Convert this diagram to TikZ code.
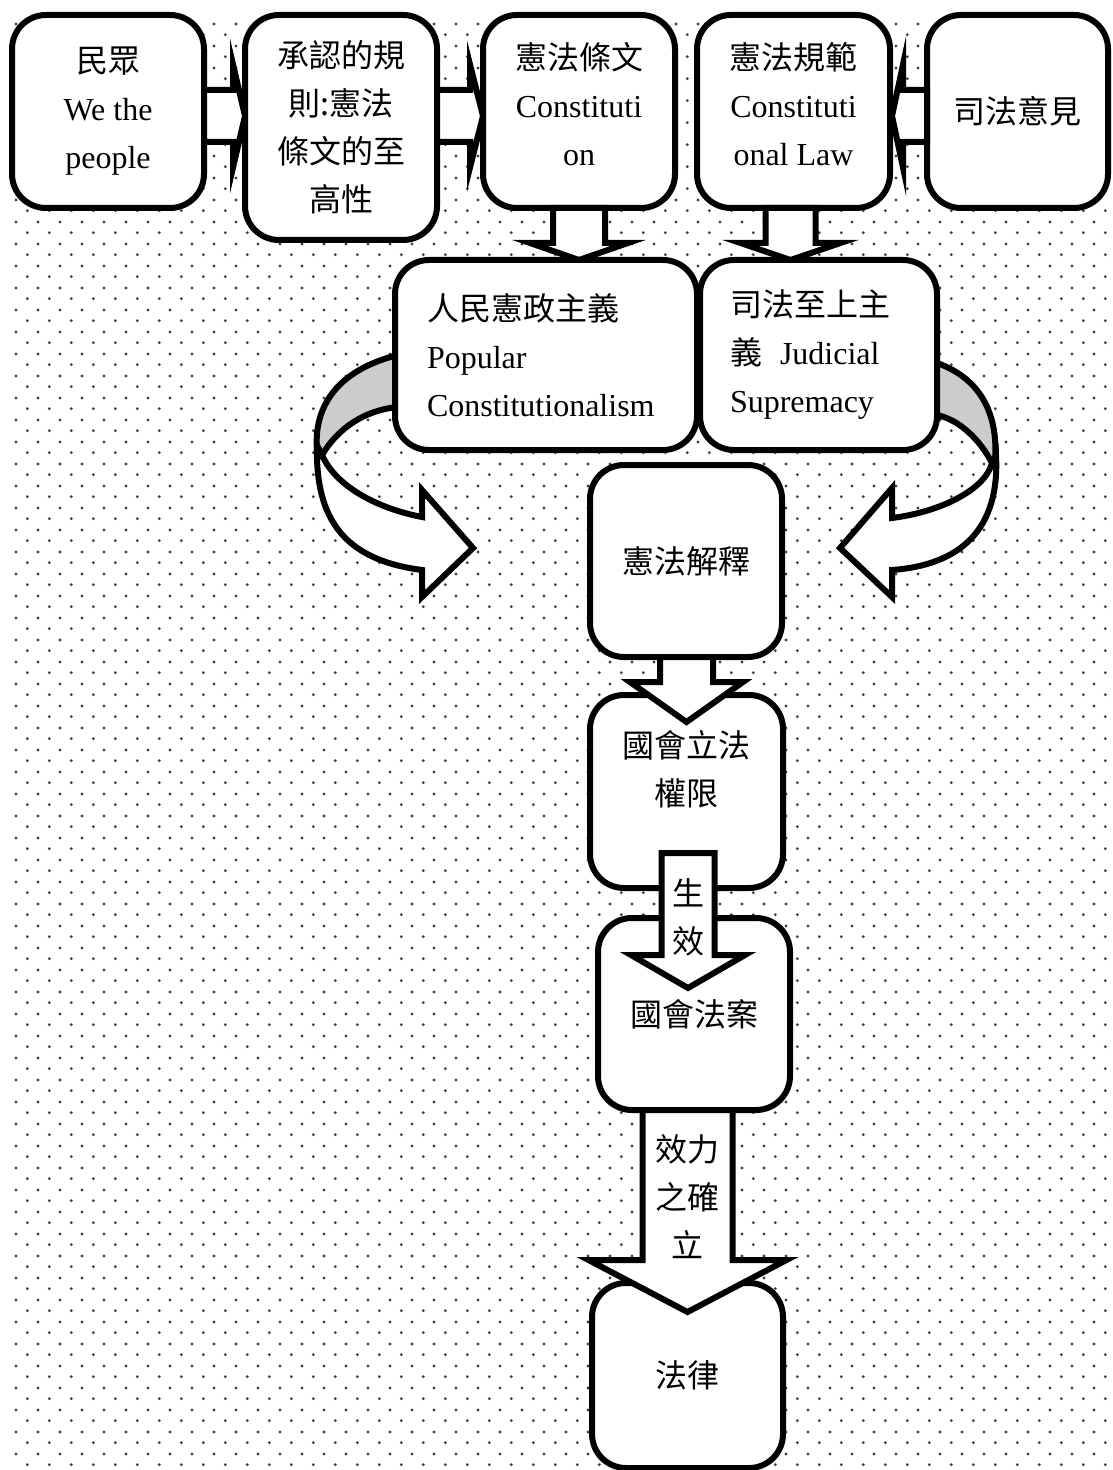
\documentclass[tikz,border=0pt]{standalone}
\usepackage{fontspec}
\setmainfont{Liberation Serif}
\newfontfamily\cjk{Noto Sans CJK TC}
\usepackage{xcolor}
\usepackage{tikz}
\usetikzlibrary{calc, patterns}

\pgfdeclarepatternformonly{offsetdots}{\pgfpointorigin}{\pgfpoint{10.83pt}{10.83pt}}{\pgfpoint{10.83pt}{10.83pt}}{%
  \pgfpathcircle{\pgfpoint{2.7pt}{2.7pt}}{0.8pt}%
  \pgfpathcircle{\pgfpoint{8.12pt}{8.12pt}}{0.8pt}%
  \pgfusepath{fill}}

\pgfdeclarelayer{bg}
\pgfdeclarelayer{behind}
\pgfsetlayers{bg,behind,main}

% block arrows: tail, tip, shaft half width, head half width, head length
\newcommand{\blockdown}[5]{%
  \draw[bigarrow] ($(#2 |- #1)+(-#3,0)$) -- ($(#2)+(-#3,-#5)$) -- ($(#2)+(-#4,-#5)$) -- (#2)
    -- ($(#2)+(#4,-#5)$) -- ($(#2)+(#3,-#5)$) -- ($(#2 |- #1)+(#3,0)$) -- cycle;}
\newcommand{\blockside}[5]{%
  \draw[bigarrow] ($(#1 |- #2)+(0,-#3)$) -- ($(#2)+({-(#5)},-#3)$) -- ($(#2)+({-(#5)},-#4)$) -- (#2)
    -- ($(#2)+({-(#5)},#4)$) -- ($(#2)+({-(#5)},#3)$) -- ($(#1 |- #2)+(0,#3)$) -- cycle;}

\begin{document}
\begin{tikzpicture}[
    x=0.5pt, y=-0.5pt,
    block/.style={rectangle, draw, line width=3pt, fill=white, rounded corners=17pt, anchor=north west,
                  align=center, outer sep=0pt, inner sep=4pt, font=\fontsize{16}{24}\selectfont},
    zh/.style={font=\fontsize{16}{24}\selectfont\cjk},
    bigarrow/.style={draw, line width=3pt, fill=white, line join=miter, miter limit=20},
    twist/.style={draw, line width=3pt, fill=black!20},
    inarrow/.style={font=\fontsize{16}{24}\selectfont\cjk, align=center, inner sep=0pt}
]
    \useasboundingbox (0,0) rectangle (1112,1470);
    \begin{pgfonlayer}{bg}
        \fill[white] (0,0) rectangle (1112,1470);
        \pattern[pattern=offsetdots, pattern color=black!75] (12,16) rectangle (1112,1470);
    \end{pgfonlayer}

    \node[block, minimum width=96pt, minimum height=96.5pt] (people) at (12,15) {{\cjk 民眾}\\We the\\people};
    \node[block, zh, minimum width=96pt, minimum height=112.5pt] (rule) at (245,15) {承認的規\\則:憲法\\條文的至\\高性};
    \node[block, minimum width=96pt, minimum height=96.5pt] (const) at (483,15) {{\cjk 憲法條文}\\Constituti\\on\strut};
    \node[block, minimum width=96.5pt, minimum height=96.5pt] (conlaw) at (697,15) {{\cjk 憲法規範}\\Constituti\\onal Law\strut};
    \node[block, zh, minimum width=90.5pt, minimum height=96.5pt] (opinion) at (927,15) {司法意見};

    \node[block, minimum width=151pt, minimum height=95pt, text width=119pt, align=left, inner xsep=16pt] (popular) at (395,260)
        {{\cjk 人民憲政主義}\\Popular\\Constitutionalism};
    \node[block, minimum width=118.5pt, minimum height=95pt, text width=88.5pt, align=left, inner xsep=15pt] (judicial) at (700,260)
        {{\cjk 司法至上主}\\{\cjk 義}\hspace{9pt}Judicial\\Supremacy};

    \node[block, zh, minimum width=96pt, minimum height=96pt] (interp) at (590,465) {憲法解釋};
    \node[block, zh, minimum width=96.5pt, minimum height=96.5pt] (power) at (590,695) {國會立法\\權限\\~};
    \node[block, zh, minimum width=96pt, minimum height=96pt] (bill) at (598,918) {國會法案};
    \node[block, zh, minimum width=95.5pt, minimum height=92.5pt] (law) at (592,1283) {法律};

    \begin{pgfonlayer}{behind}
        \begin{scope}[shift={(popular.west)}]
            \draw[twist] (10,-1) -- (3,0) .. controls (-50,13) and (-82,45) .. (-78,95) -- (-73,100)
                .. controls (-57,73) and (-30,55) .. (3,52) -- (10,52) -- cycle;
            \draw[bigarrow] (-78,90) .. controls (-80,165) and (-50,205) .. (27,215) -- (27,242) -- (78,193)
                -- (27,135) -- (27,162) .. controls (-20,153) and (-60,130) .. (-73,100) -- cycle;
        \end{scope}
        \begin{scope}[shift={(judicial.east)}]
            \draw[twist] (-7,7) -- (0,8) .. controls (48,25) and (61,65) .. (58,105) -- (55,108)
                .. controls (43,85) and (23,65) .. (0,60) -- (-7,60) -- cycle;
            \draw[bigarrow] (59,100) .. controls (63,175) and (23,210) .. (-45,215) -- (-45,242) -- (-97,193)
                -- (-45,133) -- (-45,163) .. controls (3,157) and (48,135) .. (55,108) -- cycle;
        \end{scope}
    \end{pgfonlayer}

    \coordinate (t1) at ($(rule.west |- people.east)+(0,4.5)$);
    \blockside{people.east}{t1}{26}{51.5}{12}
    \coordinate (t2) at ($(const.west |- people.east)+(0,4.5)$);
    \blockside{rule.east}{t2}{26}{51.5}{13}
    \coordinate (t3) at ($(conlaw.east)+(2,4.5)$);
    \blockside{opinion.west}{t3}{26}{51.5}{-11}

    \coordinate (t4) at (const.south |- popular.north);
    \blockdown{const.south}{t4}{26}{49}{17}
    \coordinate (t5) at ($(conlaw.south |- judicial.north)+(-3,0)$);
    \blockdown{conlaw.south}{t5}{25}{50}{17}

    \coordinate (t6) at ($(power.north)+(0,27)$);
    \blockdown{interp.south}{t6}{26.5}{56.5}{40}
    \coordinate (s7) at ($(power.south)+(0,-35)$);
    \coordinate (t7) at ($(bill.north)+(-6,70)$);
    \blockdown{s7}{t7}{26.5}{57}{33}
    \node[inarrow] (takeeffect) at ($(t7)+(0,-71)$) {生\\效};
    \coordinate (t8) at ($(law.north)+(0,29)$);
    \blockdown{bill.south}{t8}{45}{99}{52}
    \node[inarrow] (validity) at ($(t8)+(0,-115)$) {效力\\之確\\立};
\end{tikzpicture}
\end{document}
